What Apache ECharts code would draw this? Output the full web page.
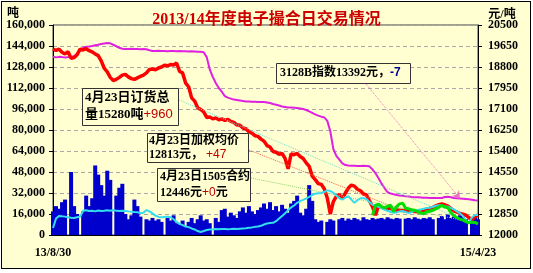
<!DOCTYPE html>
<html>
<head>
<meta charset="utf-8">
<script src="https://cdn.jsdelivr.net/npm/echarts@6/dist/echarts.min.js"></script>
<style>
  html, body { margin: 0; padding: 0; background: #ffffff; }
  #frame { position: absolute; left: 1px; top: 1px; width: 530px; height: 268px; box-sizing: border-box; border: 1px solid #000; background: #FFFFD2; }
  #chart { position: absolute; left: 0; top: 0; width: 533px; height: 273px; }
</style>
</head>
<body>
<div id="frame"></div>
<div id="chart"></div>
<script>
// ---- data ----
const xTickLabels = ['13/8/30', '15/4/23'];
const leftTicks = { min: 0, max: 160000, interval: 16000 };
const rightTicks = { min: 12000, max: 20500, interval: 850 };

// daily volume (tons) – bars, left axis
const volume = [
  18000,22000,20000,25000,27000,0,48000,22000,16000,0,
  18000,30000,22000,28000,53000,46000,38000,30000,49000,42000,
  0,30000,36000,39000,16000,12000,15000,27000,22000,14000,
  0,12000,11000,13000,11000,12000,10000,0,13000,11000,
  15000,9000,8000,11000,7000,10000,13000,9000,12000,15000,
  11000,12000,9000,0,13000,10000,19000,20000,14000,17000,
  15000,13000,18000,21000,17000,22000,18000,16000,19000,21000,
  24000,20000,25000,19000,22000,18000,23000,20000,17000,24000,
  26000,30000,17000,15000,20000,38000,26000,12000,10000,11000,
  0,10000,12000,11000,0,12000,13000,11000,12500,11500,
  13000,12000,11000,13500,12000,11500,13000,12000,12500,13000,
  12000,13500,12500,12000,13000,12500,0,12500,13000,12000,
  13500,12500,12000,13000,12500,13500,12000,0,13000,14500,
  12000,15500,13000,14000,12500,15000,13500,12000,0,13000,
  14000,12000
];

// total order volume (tons) – cyan line, left axis
const orders = [
  5300,12500,14500,14200,14000,13500,13200,13000,13500,14000,
  18500,18800,18300,18500,18000,18600,18300,18500,18800,18500,
  19000,18400,18200,18500,18300,18000,17800,17500,17300,16800,
  17000,19000,18000,16500,14800,13800,13500,13800,14000,13500,
  12000,10000,8500,7500,6500,6000,5000,4200,3000,2300,
  3000,3800,4200,4300,4500,4400,4500,4600,4400,4500,
  4700,4600,4800,5000,5200,5500,5800,6200,6500,7000,
  8000,8800,9200,9300,10500,12500,14500,16500,19000,21000,
  22500,24500,25800,26800,27800,29000,30500,31500,31800,32000,
  32800,34000,33500,32200,30000,28000,27000,28500,29500,27000,
  24500,26500,28000,28000,27500,25000,23000,22500,21500,20500,
  19200,18500,17500,17000,17200,18000,18300,17500,16800,17500,
  18500,19000,19500,20000,20500,20800,21500,22300,22600,22500,
  22000,21500,20700,19500,18000,16500,14500,11000,9500,13500,
  15200,15280
];

// 3128B cotton index (yuan/ton) – magenta line, right axis
const index3128B = [
  19200,19190,19210,19200,19180,19200,19220,19240,19350,19480,
  19580,19620,19630,19650,19680,19700,19730,19750,19770,19760,
  19700,19640,19580,19540,19530,19530,19540,19530,19530,19520,
  19530,19520,19480,19450,19450,19460,19450,19450,19440,19450,
  19450,19440,19450,19440,19440,19430,19440,19430,19420,19420,
  19400,19200,18700,18400,18150,17950,17800,17620,17560,17520,
  17480,17460,17440,17420,17400,17400,17390,17390,17380,17380,
  17380,17360,17340,17300,17270,17240,17200,17180,17160,17160,
  17150,17140,17120,17100,17060,17000,16940,16880,16830,16790,
  16760,16620,16200,15480,15200,15050,14900,14830,14810,14800,
  14800,14790,14790,14800,14790,14780,14650,14500,14300,14080,
  13900,13730,13680,13650,13620,13600,13590,13570,13560,13540,
  13530,13530,13520,13510,13510,13500,13500,13500,13500,13500,
  13540,13550,13530,13500,13490,13480,13470,13460,13450,13430,
  13410,13392
];

// weighted average price (yuan/ton) – red line, right axis
const avgPrice = [
  19530,19470,19520,19400,19330,19420,19150,19180,19300,19520,
  19490,19540,19460,19410,19330,19260,19050,18750,18600,18380,
  18250,18300,18380,18470,18500,18400,18330,18300,18360,18420,
  18470,18560,18700,18720,18690,18760,18800,18870,18850,18900,
  18880,18960,18620,18560,18150,18000,17550,17420,17150,17080,
  16980,16760,16780,16700,16740,16660,16700,16640,16680,16600,
  16560,16460,16440,16330,16300,16180,16120,16020,15990,15880,
  15800,15620,15560,15380,15350,15270,15300,15100,14680,15280,
  15250,15300,15180,15100,14920,14780,14380,14240,14080,14050,
  13870,13500,12850,13350,13560,13640,13460,13700,13900,14020,
  13980,13850,13790,13660,13620,13380,13150,12800,13200,13120,
  13090,13060,13080,13020,13010,13000,12990,12980,12960,12970,
  12950,12940,12930,12950,13020,13080,13110,13180,13230,13260,
  13220,13170,13080,12980,12930,12870,12840,12800,12700,12620,
  12740,12813
];

// 1505 contract price (yuan/ton) – green line, right axis
const contract1505 = [
  null,null,null,null,null,null,null,null,null,null,
  null,null,null,null,null,null,null,null,null,null,
  null,null,null,null,null,null,null,null,null,null,
  null,null,null,null,null,null,null,null,null,null,
  null,null,null,null,null,null,null,null,null,null,
  null,null,null,null,null,null,null,null,null,null,
  null,null,null,null,null,null,null,null,null,null,
  null,null,null,null,null,null,null,null,null,null,
  null,null,null,null,null,null,null,null,null,null,
  null,null,null,null,null,null,null,null,null,null,
  null,null,null,null,null,null,12800,13200,13250,13150,
  13100,13160,13210,12950,13150,13260,13290,13080,13060,13020,
  13000,12950,12890,12860,12940,12960,13000,13060,13120,13200,
  13130,13100,12900,12780,12700,12640,12600,12540,12490,12520,
  12510,12446
];

// ---- chart ----
const SERIF = '"Liberation Serif", "Noto Sans CJK SC", serif';
const N = volume.length;
const categories = volume.map((_, i) => i);
const last = N - 1;
const RB = rightTicks.min; // right axis base
const shift = arr => arr.map(v => (v == null ? null : v - RB));

const chart = echarts.init(document.getElementById('chart'), null, { renderer: 'canvas' });

const labelStyle = { fontFamily: SERIF, fontWeight: 'bold', fontSize: 12, color: '#000' };
const boxFill = '#FFFFD2';

function box(x, y, w, h) {
  return { type: 'rect', z: 100, shape: { x: x + 0.5, y: y + 0.5, width: w, height: h },
    style: { fill: boxFill, stroke: '#333', lineWidth: 1 } };
}
function txt(x, y, text, size, lh) {
  return { type: 'text', z: 101, x: x, y: y,
    style: { text: text, fontFamily: SERIF, fontWeight: 'bold', fontSize: size, lineHeight: lh,
      fill: '#000', verticalAlign: 'top',
      rich: {
        r: { fontFamily: 'Liberation Sans', fontWeight: 'normal', fontSize: size, lineHeight: lh, fill: '#C00000' },
        b: { fontFamily: 'Liberation Sans', fontWeight: 'bold', fontSize: size, lineHeight: lh, fill: '#000090' }
      } } };
}

const connector = (from, toIdx, toVal, color, arrow) => ({
  silent: true, animation: false,
  symbol: ['none', arrow ? 'arrow' : 'none'], symbolSize: arrow ? 7 : 0,
  label: { show: false },
  lineStyle: { type: 'dotted', color: color, width: 1 },
  data: [[{ x: from[0], y: from[1] }, { coord: [toIdx, toVal] }]]
});

const option = {
  animation: false,
  backgroundColor: 'transparent',
  title: {
    text: '2013/14年度电子撮合日交易情况',
    left: 'center', top: 7,
    textStyle: { fontFamily: SERIF, fontWeight: 'bold', fontSize: 16, color: '#CC0000',
      textShadowColor: 'rgba(60,0,0,0.8)', textShadowOffsetX: 1, textShadowOffsetY: 1, textShadowBlur: 0 }
  },
  grid: { left: 53, right: 55, top: 25, bottom: 38, show: true, borderColor: '#444', borderWidth: 1, backgroundColor: 'transparent' },
  xAxis: {
    type: 'category', data: categories, boundaryGap: false,
    axisLine: { lineStyle: { color: '#000', width: 1 } },
    axisTick: { show: false },
    splitLine: { show: false },
    axisLabel: Object.assign({}, labelStyle, {
      margin: 12, interval: (i) => i === 0 || i === last,
      formatter: (v, i) => (i === 0 ? xTickLabels[0] : (i === last ? xTickLabels[1] : ''))
    })
  },
  yAxis: [
    {
      type: 'value', min: leftTicks.min, max: leftTicks.max, interval: leftTicks.interval,
      axisLine: { show: true, lineStyle: { color: '#000', width: 1 } },
      axisTick: { show: true, length: 4, lineStyle: { color: '#000' } },
      axisLabel: Object.assign({}, labelStyle, { margin: 8 }),
      splitLine: { show: true, lineStyle: { color: '#A8A8A8', type: [4, 3], width: 1 } }
    },
    {
      type: 'value', min: 0, max: rightTicks.max - RB, interval: rightTicks.interval,
      position: 'right',
      axisLine: { show: true, lineStyle: { color: '#000', width: 1 } },
      axisTick: { show: true, length: 4, lineStyle: { color: '#000' } },
      axisLabel: Object.assign({}, labelStyle, { margin: 10, formatter: v => String(v + RB) }),
      splitLine: { show: false }
    }
  ],
  series: [
    { name: '成交量', type: 'bar', data: volume, yAxisIndex: 0, barWidth: 4,
      itemStyle: { color: '#0000CC' }, z: 2 },
    { name: '3128B指数', type: 'line', data: shift(index3128B), yAxisIndex: 1, showSymbol: false,
      lineStyle: { color: '#E020E0', width: 2 }, z: 3,
      markLine: connector([366, 84], 135, index3128B[135] - RB, '#F070C0', true) },
    { name: '加权均价', type: 'line', data: shift(avgPrice), yAxisIndex: 1, showSymbol: false,
      lineStyle: { color: '#FF0000', width: 3.5 }, z: 4,
      markLine: connector([249, 150], 116, avgPrice[116] - RB, '#F06040', false) },
    { name: '订货总量', type: 'line', data: orders, yAxisIndex: 0, showSymbol: false,
      lineStyle: { color: '#33DDEE', width: 2 }, z: 5,
      markLine: connector([179, 100], 138, orders[138], '#70D8C8', false) },
    { name: '1505合约', type: 'line', data: shift(contract1505), yAxisIndex: 1, showSymbol: false,
      connectNulls: false, lineStyle: { color: '#00E000', width: 3 }, z: 6,
      markLine: connector([251, 178], 139, contract1505[139] - RB, '#90D070', false) }
  ],
  graphic: [
    { type: 'text', x: 13, y: 14, z: 100, style: { text: '吨', fontFamily: SERIF, fontWeight: 'bold', fontSize: 12, fill: '#000', align: 'center', verticalAlign: 'middle' } },
    { type: 'text', x: 502, y: 15, z: 100, style: { text: '元/吨', fontFamily: SERIF, fontWeight: 'bold', fontSize: 12, fill: '#000', align: 'center', verticalAlign: 'middle' } },
    box(82, 88, 96, 37),
    txt(85, 89, '4月23日订货总\n量15280吨{r|+960}', 13, 17),
    box(147, 133, 101, 29),
    txt(149, 134, '4月23日加权均价\n12813元， {r|+47}', 12, 14),
    box(157, 168, 93, 33),
    txt(160, 169, '4月23日1505合约\n12446元{r|+0}元', 12, 16),
    box(276, 63, 134, 20),
    txt(280, 66, '3128B指数13392元，{b|-7}', 12, 14)
  ]
};
chart.setOption(option);
</script>
</body>
</html>
